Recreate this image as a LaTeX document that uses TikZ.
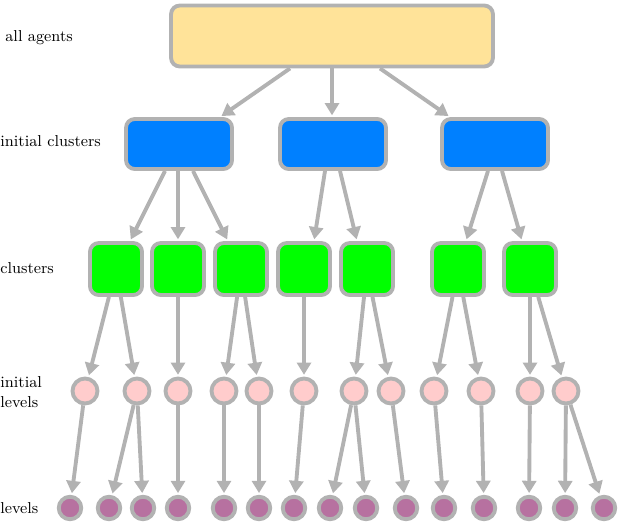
\documentclass[tikz,border=0pt]{standalone}
\usetikzlibrary{arrows.meta}
\definecolor{edge}{RGB}{178,178,178}
\definecolor{topc}{RGB}{255,227,153}
\definecolor{bluec}{RGB}{0,128,255}
\definecolor{pinkc}{RGB}{255,204,204}
\definecolor{purc}{RGB}{183,113,160}
\begin{document}
\begin{tikzpicture}[x=0.02cm,y=-0.02cm,
  box/.style={draw=edge,line width=2.2pt,rounded corners=5pt,inner sep=0pt},
  pnode/.style={circle,draw=edge,line width=2.2pt,fill=pinkc,minimum size=0.5cm,inner sep=0pt},
  lnode/.style={circle,draw=edge,line width=2.2pt,fill=purc,minimum size=0.45cm,inner sep=0pt},
  arr/.style={draw=edge,line width=2.2pt,-{Triangle[length=7pt,width=8pt]},shorten >=1pt},
  lab/.style={anchor=west,font=\small,align=left,inner sep=0pt}]
\useasboundingbox (0,0) rectangle (624,524);
\node[box,fill=topc,minimum width=6.44cm,minimum height=1.22cm] (top) at (332,36) {};
\foreach \n/\x in {b1/179,b2/333,b3/495}
  \node[box,fill=bluec,minimum width=2.12cm,minimum height=1.0cm] (\n) at (\x,144) {};
\foreach \n/\x in {g1/116,g2/178,g3/241,g4/304,g5/367,g6/458,g7/530}
  \node[box,fill=green,minimum width=1.04cm,minimum height=1.04cm] (\n) at (\x,269) {};
\foreach \i/\x in {1/85,2/137,3/178,4/224,5/259,6/304,7/354,8/391,9/434,10/481,11/530,12/566}
  \node[pnode] (p\i) at (\x,391) {};
\foreach \i/\x in {1/70,2/109,3/143,4/178,5/224,6/259,7/294,8/330,9/366,10/406,11/444,12/484,13/529,14/565,15/604}
  \node[lnode] (l\i) at (\x,508) {};
\node[lab] (t1) at (5,38) {all agents};
\node[lab] (t2) at (0,141) {initial clusters};
\node[lab] (t3) at (0,268) {clusters};
\node[lab] (t4) at (0,392) {initial\\levels};
\node[lab] (t5) at (0,508) {levels};
\draw[arr] (top.south -| 290,0) -- (b1.north -| 220,0);
\draw[arr] (top.south -| 332,0) -- (b2.north -| 332,0);
\draw[arr] (top.south -| 380,0) -- (b3.north -| 450,0);
\draw[arr] (b1.south -| 165,0) -- (g1.north -| 130,0);
\draw[arr] (b1.south -| 178,0) -- (g2);
\draw[arr] (b1.south -| 193,0) -- (g3.north -| 228,0);
\draw[arr] (b2.south -| 325,0) -- (g4.north -| 314,0);
\draw[arr] (b2.south -| 340,0) -- (g5.north -| 357,0);
\draw[arr] (b3.south -| 488,0) -- (g6.north -| 466,0);
\draw[arr] (b3.south -| 502,0) -- (g7.north -| 522,0);
\foreach \g/\p in {g1/p1,g1/p2,g2/p3,g3/p4,g3/p5,g4/p6,g5/p7,g5/p8,g6/p9,g6/p10,g7/p11,g7/p12}
  \draw[arr] (\g) -- (\p);
\foreach \p/\l in {p1/l1,p2/l2,p2/l3,p3/l4,p4/l5,p5/l6,p6/l7,p7/l8,p7/l9,p8/l10,p9/l11,p10/l12,p11/l13,p12/l14,p12/l15}
  \draw[arr] (\p) -- (\l);
\end{tikzpicture}
\end{document}
